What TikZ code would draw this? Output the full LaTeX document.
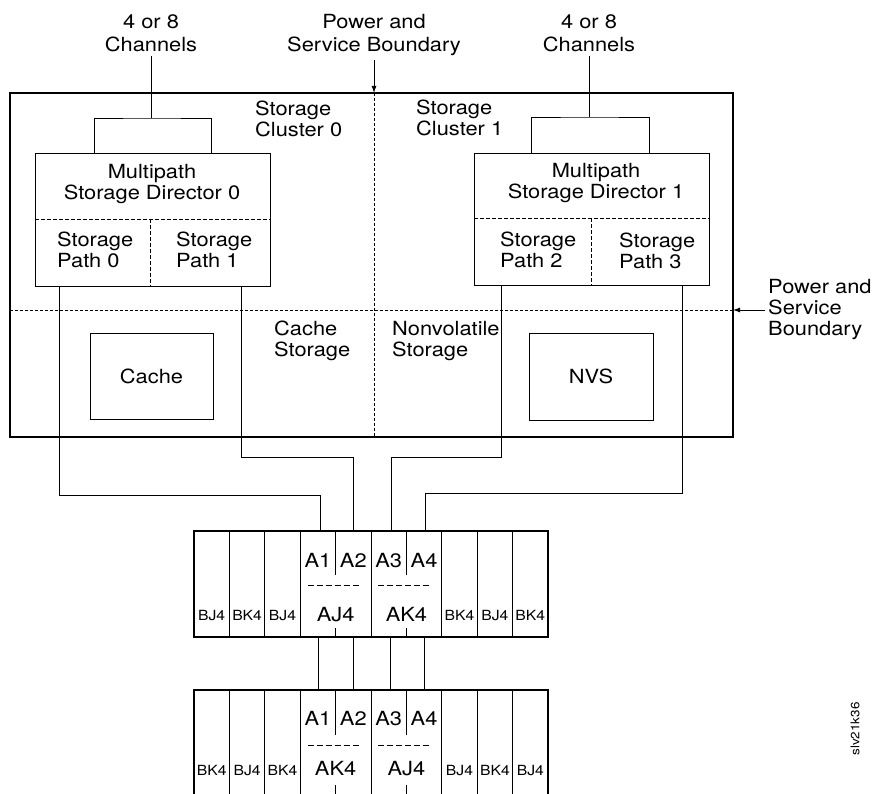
\documentclass[tikz,border=0pt]{standalone}
\usepackage{fontspec}
\setmainfont{TeX Gyre Heros}[FakeStretch=1.12]
\usetikzlibrary{arrows.meta,positioning}

\begin{document}
\begin{tikzpicture}[
  x=1pt, y=-1pt,
  font=\fontsize{19.5}{21}\selectfont,
  >={Latex[length=7pt,width=5pt]},
  frame/.style={draw, line width=2.2pt, inner sep=0pt, outer sep=0pt, anchor=north west},
  unit/.style={draw, line width=0.9pt, inner sep=0pt, outer sep=0pt, anchor=north west},
  txt/.style={inner sep=0pt, align=left},
  ctxt/.style={inner sep=0pt, align=center},
  toptxt/.style={ctxt, anchor=south, font=\fontsize{19.5}{23}\selectfont},
  slotlbl/.style={inner sep=0pt, anchor=base},
  smallslot/.style={slotlbl, font=\fontsize{14}{16}\selectfont},
  wire/.style={line width=0.9pt},
  bound/.style={line width=0.8pt, dash pattern=on 3pt off 2pt},
  half/.style={line width=0.8pt, dash pattern=on 4pt off 2pt},
  slotdash/.style={line width=0.9pt, dash pattern=on 6pt off 3pt}
]
\useasboundingbox (0,0) rectangle (873,794);

% subsystem frame and power/service boundaries
\node[frame, minimum width=723pt, minimum height=344pt] (subsys) at (10,93) {};
\node[toptxt] (psbtop) at (374,56) {Power and\\Service Boundary};
\node[txt, anchor=west] (psbside) at (768,310) {Power and\\Service\\Boundary};
\draw[wire, ->] ([yshift=-4pt]psbtop.south) -- (psbtop.south |- subsys.north);
\draw[bound] (psbtop.south |- subsys.north) -- (psbtop.south |- subsys.south);
\draw[wire, ->] ([xshift=-3pt]psbside.west) -- (psbside.west -| subsys.east);
\draw[bound] (psbside.west -| subsys.west) -- (psbside.west -| subsys.east);

\node[txt, anchor=south west] (clus0) at (255,137) {Storage\\Cluster 0};
\node[txt, anchor=south west] (clus1) at (416,136) {Storage\\Cluster 1};

% storage directors
\node[unit, minimum width=235pt, minimum height=133pt] (msd0) at (35,153) {};
\node[unit, minimum width=235pt, minimum height=132pt] (msd1) at (474,153) {};
\draw[half] ([yshift=-66pt]msd0.north west) -- ([yshift=-66pt]msd0.north east);
\draw[half] ([xshift=115pt,yshift=-66pt]msd0.north west) -- ([xshift=115pt]msd0.south west);
\draw[half] ([yshift=-65pt]msd1.north west) -- ([yshift=-65pt]msd1.north east);
\draw[half] ([xshift=117pt,yshift=-65pt]msd1.north west) -- ([xshift=117pt]msd1.south west);
\node[ctxt, anchor=south] (msd0name) at (152,204) {Multipath\\Storage Director 0};
\node[ctxt, anchor=south] (msd1name) at (596,203) {Multipath\\Storage Director 1};
\node[txt, anchor=south west] (path0) at (57,268) {Storage\\Path 0};
\node[txt, anchor=south west] (path1) at (176,268) {Storage\\Path 1};
\node[txt, anchor=south west] (path2) at (500,268) {Storage\\Path 2};
\node[txt, anchor=south west] (path3) at (619,269) {Storage\\Path 3};

% channels
\node[toptxt] (chan0) at (151,52) {4 or 8\\Channels};
\node[toptxt] (chan1) at (589,52) {4 or 8\\Channels};
\coordinate (brk0) at (chan0.south |- 0,118);
\coordinate (brk1) at (chan1.south |- 0,117);
\draw[wire, shorten <=4pt] (chan0.south) -- (brk0);
\draw[wire] ([xshift=59pt]msd0.north west) |- (brk0) -| ([xshift=176pt]msd0.north west);
\draw[wire, shorten <=4pt] (chan1.south) -- (brk1);
\draw[wire] ([xshift=57pt]msd1.north west) |- (brk1) -| ([xshift=175pt]msd1.north west);

% cache and nvs
\node[unit, minimum width=123pt, minimum height=86pt] (cache) at (90,333) {Cache};
\node[unit, minimum width=124pt, minimum height=87pt] (nvs) at (529,333) {NVS};
\node[txt, anchor=south west] (cachelbl) at (274,361) {Cache\\Storage};
\node[txt, anchor=south west] (nvslbl) at (392,361) {Nonvolatile\\Storage};

% device racks
\node[frame, minimum width=354pt, minimum height=106pt] (rackA) at (194,531) {};
\node[frame, minimum width=354pt, minimum height=106pt] (rackB) at (194,690) {};

\begin{scope}[shift={(rackA.north west)}]
  \foreach \i in {1,2,3,5,7,8,9}
    \draw[wire] (\i*35.4,0) -- (\i*35.4,106);
  \foreach \i in {4,6} {
    \draw[wire] (\i*35.4,0) -- (\i*35.4,44);
    \draw[wire] (\i*35.4,97) -- (\i*35.4,106);
    \draw[slotdash] (\i*35.4-28,54) -- (\i*35.4+24,54);
  }
  \foreach \lab [count=\i from 0] in {A1,A2,A3,A4}
    \node[slotlbl] (ua\i) at (123.9+\i*35.4,36) {\lab};
  \foreach \lab [count=\i from 0] in {BJ4,BK4,BJ4}
    \node[smallslot] (ul\i) at (17.7+\i*35.4,89) {\lab};
  \foreach \lab [count=\i from 0] in {BK4,BJ4,BK4}
    \node[smallslot] (ur\i) at (265.5+\i*35.4,89) {\lab};
  \node[slotlbl] (uaj) at (141.6,90) {AJ4};
  \node[slotlbl] (uak) at (212.4,90) {AK4};
\end{scope}

\begin{scope}[shift={(rackB.north west)}]
  \foreach \i in {1,2,3,5,7,8,9}
    \draw[wire] (\i*35.4,0) -- (\i*35.4,106);
  \foreach \i in {4,6} {
    \draw[wire] (\i*35.4,0) -- (\i*35.4,45);
    \draw[wire] (\i*35.4,95) -- (\i*35.4,106);
    \draw[slotdash] (\i*35.4-28,55) -- (\i*35.4+24,55);
  }
  \foreach \lab [count=\i from 0] in {A1,A2,A3,A4}
    \node[slotlbl] (la\i) at (123.9+\i*35.4,35) {\lab};
  \foreach \lab [count=\i from 0] in {BK4,BJ4,BK4}
    \node[smallslot] (ll\i) at (17.7+\i*35.4,85) {\lab};
  \foreach \lab [count=\i from 0] in {BJ4,BK4,BJ4}
    \node[smallslot] (lr\i) at (265.5+\i*35.4,85) {\lab};
  \node[slotlbl] (lak) at (141.6,85) {AK4};
  \node[slotlbl] (laj) at (212.4,85) {AJ4};
\end{scope}

% storage path cabling
\draw[wire] ([xshift=24pt]msd0.south west) -- ++(0,209) -| ([xshift=126pt]rackA.north west);
\draw[wire] ([xshift=206pt]msd0.south west) -- ++(0,171) -| ([xshift=159pt]rackA.north west);
\draw[wire] ([xshift=27pt]msd1.south west) -- ++(0,172) -| ([xshift=197pt]rackA.north west);
\draw[wire] ([xshift=208pt]msd1.south west) -- ++(0,208) -| ([xshift=231pt]rackA.north west);
\foreach \dx in {124,159,196,230}
  \draw[wire] ([xshift=\dx pt]rackA.south west) -- ([xshift=\dx pt]rackB.north west);

\node[rotate=90, inner sep=0pt, font=\fontsize{12}{14}\selectfont] (figid) at (855,729) {slv21k36};
\end{tikzpicture}
\end{document}
